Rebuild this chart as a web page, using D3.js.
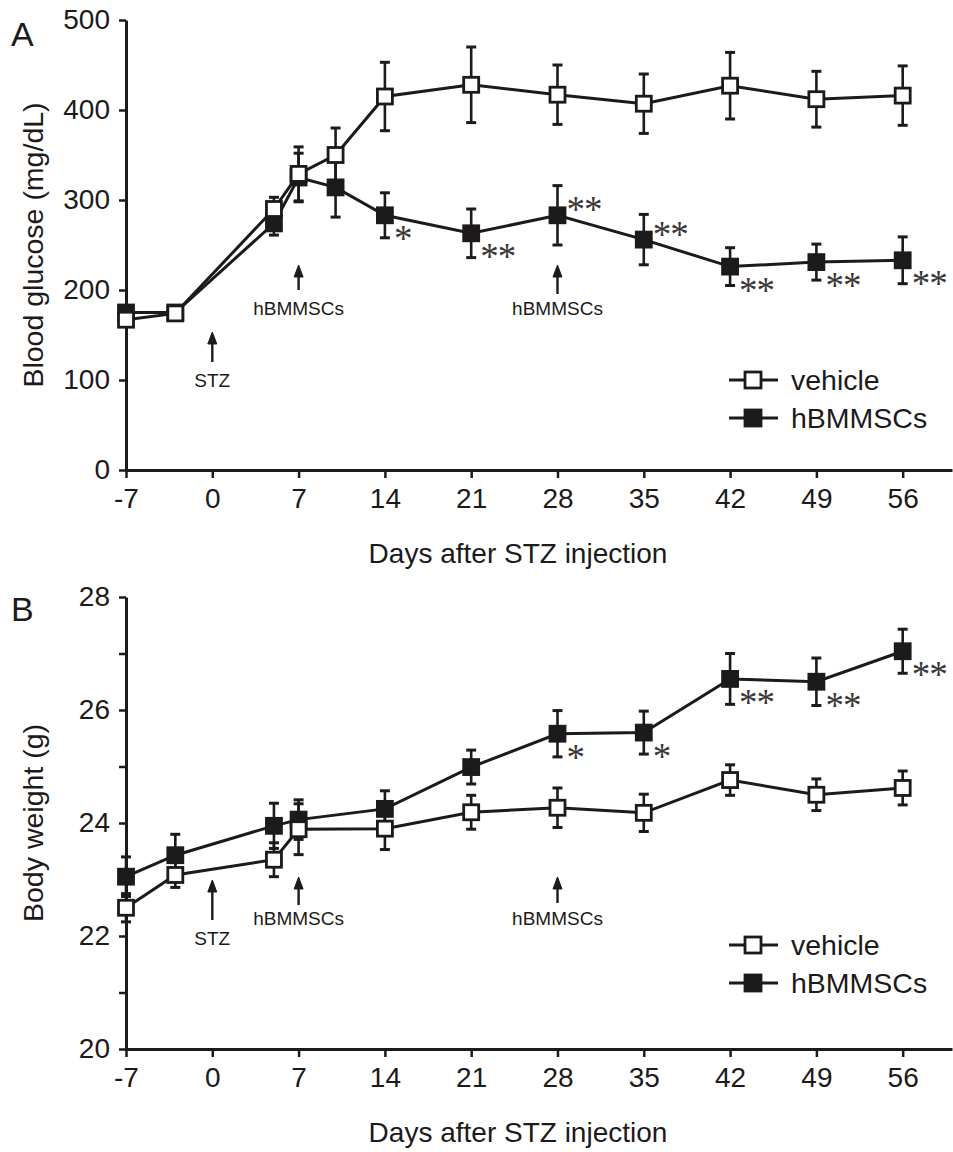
<!DOCTYPE html>
<html><head><meta charset="utf-8">
<script src="https://cdn.jsdelivr.net/npm/d3@7"></script>
<style>
html,body{margin:0;padding:0;background:#fff;}
svg{display:block;}
</style>
</head><body>
<script>
// ---------- DATA ----------
const xTickValues = [-7, 0, 7, 14, 21, 28, 35, 42, 49, 56];
const xTickLabels = ["-7", "0", "7", "14", "21", "28", "35", "42", "49", "56"];

const glucoseDays = [-7, -3, 5, 7, 10, 14, 21, 28, 35, 42, 49, 56];
const glucoseVehicle = [167, 174, 290, 329, 350, 415, 428, 417, 407, 427, 412, 416];
const glucoseVehicleErr = [6, 5, 13, 30, 30, 38, 42, 33, 33, 37, 31, 33];
const glucoseMSC = [175, 175, 274, 325, 314, 283, 263, 283, 256, 226, 231, 233];
const glucoseMSCErr = [6, 5, 13, 27, 33, 25, 27, 33, 28, 21, 20, 26];
const glucoseSig = ["", "", "", "", "", "*", "**", "**", "**", "**", "**", "**"];
const glucoseSigSide = ["", "", "", "", "", "below", "below", "above", "above", "below", "below", "below"];
const glucoseTicks = [0, 100, 200, 300, 400, 500];

const weightDays = [-7, -3, 5, 7, 14, 21, 28, 35, 42, 49, 56];
const weightVehicle = [22.5, 23.08, 23.35, 23.89, 23.9, 24.19, 24.27, 24.18, 24.76, 24.5, 24.62];
const weightVehicleErr = [0.25, 0.22, 0.3, 0.45, 0.37, 0.3, 0.35, 0.33, 0.27, 0.28, 0.3];
const weightMSC = [23.05, 23.43, 23.95, 24.06, 24.25, 24.99, 25.58, 25.6, 26.55, 26.5, 27.04];
const weightMSCErr = [0.35, 0.37, 0.4, 0.35, 0.32, 0.3, 0.41, 0.38, 0.45, 0.42, 0.39];
const weightSig = ["", "", "", "", "", "", "*", "*", "**", "**", "**"];
const weightSigSide = ["", "", "", "", "", "", "below", "below", "below", "below", "below"];
const weightTicks = [20, 21, 22, 23, 24, 25, 26, 27, 28];
const weightTickLabels = ["20", "", "22", "", "24", "", "26", "", "28"];

const seriesNames = ["vehicle", "hBMMSCs"];
const annotationDays = [0, 7, 28];
const annotationLabels = ["STZ", "hBMMSCs", "hBMMSCs"];

// ---------- DRAW ----------
const W = 953, H = 1152;
const INK = "#1c1a1a";
const SANS = "'Liberation Sans', Arial, Helvetica, sans-serif";
const svg = d3.select("body").append("svg").attr("width", W).attr("height", H)
  .attr("font-family", SANS);

const x = d3.scaleLinear().domain([-7, 60]).range([126, 952]);

function panel(opts) {
  const g = svg.append("g");
  const y = d3.scaleLinear().domain(opts.yDomain).range(opts.yRange);

  // axes
  const yAxis = d3.axisLeft(y).tickValues(opts.yTicks).tickSize(7).tickSizeOuter(0).tickPadding(9)
    .tickFormat((d, i) => opts.yTickLabels ? opts.yTickLabels[i] : d3.format("d")(d));
  const ya = g.append("g").attr("transform", `translate(${x(-7)},0)`).call(yAxis);
  const xAxis = d3.axisBottom(x).tickValues(xTickValues).tickSize(8).tickSizeOuter(0).tickPadding(9)
    .tickFormat((d, i) => xTickLabels[i]);
  const xa = g.append("g").attr("transform", `translate(0,${opts.yRange[0]})`).call(xAxis);
  [ya, xa].forEach(a => {
    a.select(".domain").attr("stroke", INK).attr("stroke-width", 3);
    a.selectAll(".tick line").attr("stroke", INK).attr("stroke-width", 2.5);
    a.selectAll(".tick text").attr("fill", INK).attr("font-size", 28).attr("font-family", SANS);
  });
  xa.selectAll(".tick text").attr("dy", "0.75em");

  // titles
  g.append("text").attr("x", 518).attr("y", opts.yRange[0] + 93).attr("text-anchor", "middle")
    .attr("font-size", 28).attr("fill", INK).text("Days after STZ injection");
  const ym = (opts.yRange[0] + opts.yRange[1]) / 2;
  g.append("text").attr("transform", `translate(43,${ym}) rotate(-90)`).attr("text-anchor", "middle")
    .attr("font-size", 28.5).attr("fill", INK).text(opts.yTitle);
  g.append("text").attr("x", 11).attr("y", opts.labelY).attr("font-size", 34).attr("fill", INK).text(opts.label);

  // annotations (arrows)
  annotationDays.forEach((d, i) => {
    const a = opts.arrows[i];
    const ax = x(d);
    g.append("line").attr("x1", ax).attr("x2", ax).attr("y1", a[0] + 8).attr("y2", a[1])
      .attr("stroke", INK).attr("stroke-width", 2.4);
    g.append("path").attr("d", `M${ax - 4.5},${a[0] + 12} L${ax},${a[0]} L${ax + 4.5},${a[0] + 12} Z`)
      .attr("fill", INK).attr("stroke", INK).attr("stroke-width", 1);
    g.append("text").attr("x", ax).attr("y", a[2]).attr("text-anchor", "middle")
      .attr("font-size", 19).attr("fill", INK).text(annotationLabels[i]);
  });

  const line = d3.line().x(d => x(d[0])).y(d => y(d[1]));

  function drawSeries(days, vals, errs, filled) {
    const pts = days.map((d, i) => [d, vals[i], errs[i]]);
    g.append("path").attr("d", line(pts)).attr("fill", "none").attr("stroke", INK).attr("stroke-width", 3);
    const eb = g.append("g");
    pts.forEach(p => {
      const cx = x(p[0]);
      eb.append("line").attr("x1", cx).attr("x2", cx).attr("y1", y(p[1] - p[2])).attr("y2", y(p[1] + p[2]))
        .attr("stroke", INK).attr("stroke-width", 2.6);
      [p[1] - p[2], p[1] + p[2]].forEach(v => {
        eb.append("line").attr("x1", cx - 5).attr("x2", cx + 5).attr("y1", y(v)).attr("y2", y(v))
          .attr("stroke", INK).attr("stroke-width", 3);
      });
    });
    g.append("g").selectAll("rect").data(pts).join("rect")
      .attr("x", p => x(p[0]) - 7.5).attr("y", p => y(p[1]) - 7.5)
      .attr("width", 15).attr("height", 15)
      .attr("fill", filled ? INK : "#fff").attr("stroke", INK).attr("stroke-width", 2.8);
  }
  drawSeries(opts.days, opts.msc, opts.mscErr, true);
  drawSeries(opts.days, opts.veh, opts.vehErr, false);

  // significance stars
  opts.sig.forEach((s, i) => {
    if (!s) return;
    const cx = x(opts.days[i]) + 9;
    const cy = y(opts.msc[i]) + (opts.sigSide[i] === "above" ? -11 : 18);
    g.append("text").attr("x", cx).attr("y", cy + 18)
      .attr("font-family", "'Liberation Serif', 'Times New Roman', serif")
      .attr("font-size", 37).attr("letter-spacing", -1).attr("fill", "#3a3838").text(s);
  });

  // legend
  seriesNames.forEach((n, i) => {
    const ly = opts.legendY + i * 38;
    g.append("line").attr("x1", 729).attr("x2", 778).attr("y1", ly).attr("y2", ly)
      .attr("stroke", INK).attr("stroke-width", 3);
    g.append("rect").attr("x", 753 - 8).attr("y", ly - 8).attr("width", 16).attr("height", 16)
      .attr("fill", i === 0 ? "#fff" : INK).attr("stroke", INK).attr("stroke-width", 2.8);
    g.append("text").attr("x", 791).attr("y", ly + 10).attr("font-size", 28.5).attr("fill", INK).text(n);
  });
}

panel({
  label: "A", labelY: 46,
  yDomain: [0, 500], yRange: [470, 20], yTicks: glucoseTicks,
  yTitle: "Blood glucose (mg/dL)",
  days: glucoseDays, veh: glucoseVehicle, vehErr: glucoseVehicleErr,
  msc: glucoseMSC, mscErr: glucoseMSCErr, sig: glucoseSig, sigSide: glucoseSigSide,
  arrows: [[332, 362, 387], [265, 290, 315], [265, 294, 315]],
  legendY: 380
});

panel({
  label: "B", labelY: 621,
  yDomain: [20, 28], yRange: [1049, 597], yTicks: weightTicks, yTickLabels: weightTickLabels,
  yTitle: "Body weight (g)",
  days: weightDays, veh: weightVehicle, vehErr: weightVehicleErr,
  msc: weightMSC, mscErr: weightMSCErr, sig: weightSig, sigSide: weightSigSide,
  arrows: [[880, 920, 945], [877, 905, 925], [877, 903, 925]],
  legendY: 945
});
</script>
</body></html>
